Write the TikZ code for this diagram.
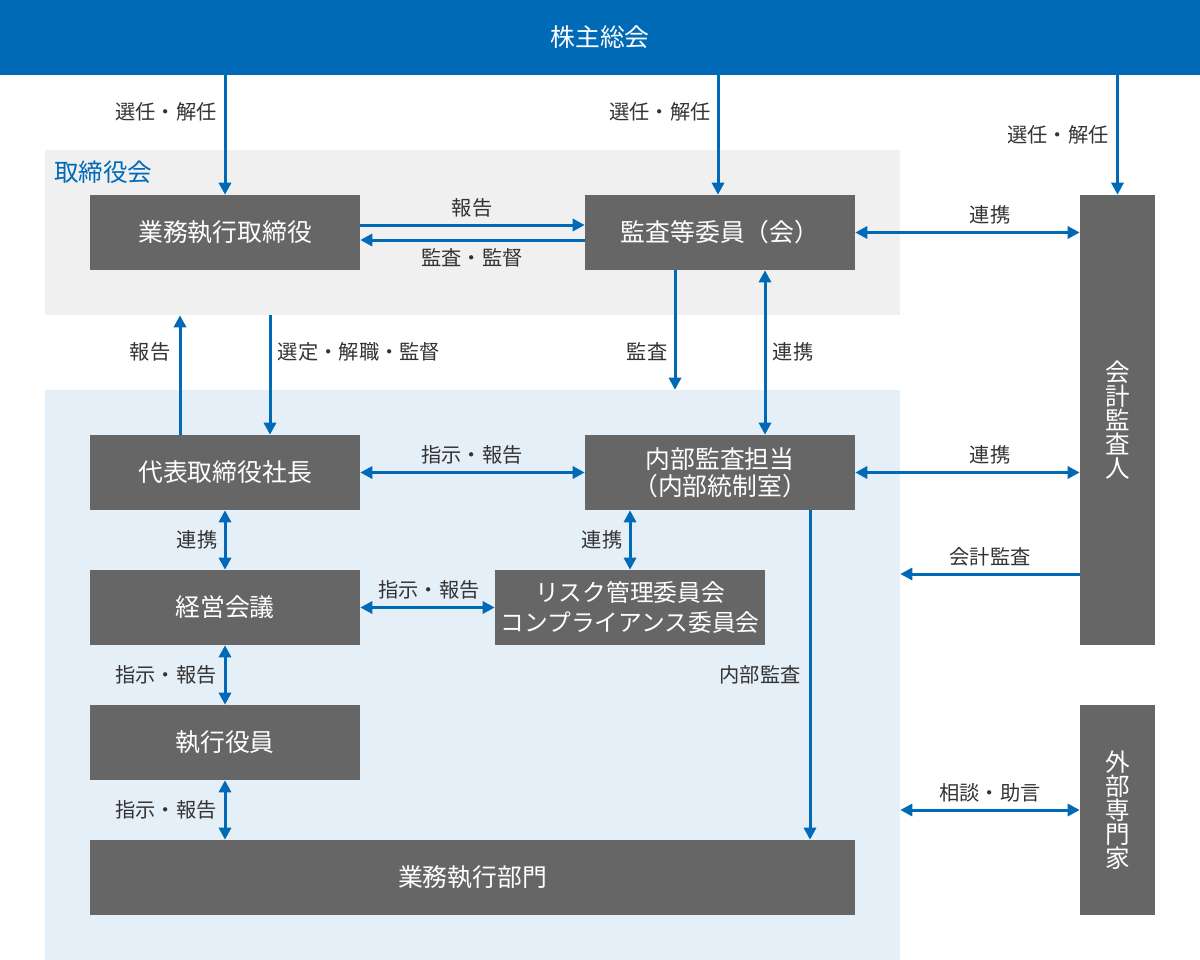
\documentclass[tikz,border=0pt]{standalone}
\usepackage{fontspec}
\setmainfont{Noto Sans CJK JP}
\usetikzlibrary{arrows.meta,calc}
\definecolor{mainblue}{HTML}{006AB6}
\definecolor{boxgray}{HTML}{666666}
\definecolor{lightgray}{HTML}{F0F0F0}
\definecolor{lightblue}{HTML}{E5EFF8}
\definecolor{labelgray}{HTML}{333333}
\tikzset{
  px/.style={x=0.75pt,y=-0.75pt},
  box/.style={fill=boxgray,text=white,inner sep=0pt,minimum height=56.25pt,minimum width=202.5pt,font=\fontsize{18.6pt}{21.5pt}\selectfont,align=center},
  vbox/.style={fill=boxgray,text=white,inner sep=0pt,minimum width=56.25pt,font=\fontsize{18.4pt}{17.9pt}\selectfont,align=center},
  region/.style={inner sep=0pt,minimum width=641.25pt},
  lbl/.style={text=labelgray,inner sep=0pt,font=\fontsize{15.2pt}{18pt}\selectfont},
  arr/.style={draw=mainblue,line width=2.25pt,-{Triangle[length=9pt,width=9pt]}},
  darr/.style={draw=mainblue,line width=2.25pt,{Triangle[length=9pt,width=9pt]}-{Triangle[length=9pt,width=9pt]}},
}
\begin{document}
\begin{tikzpicture}[px]
\useasboundingbox (0,0) rectangle (1200,960);
% regions
\node[region,fill=lightgray,minimum height=123.75pt] (board) at (472.5,232.5) {};
\node[region,fill=lightblue,minimum height=427.5pt] (exec) at (472.5,675) {};
\node[fill=mainblue,text=white,inner sep=0pt,minimum width=900pt,minimum height=56.25pt,font=\fontsize{18.6pt}{21pt}\selectfont] (banner) at (600,37.5) {株主総会};
\node[text=mainblue,anchor=west,inner sep=0pt,font=\fontsize{18.4pt}{21pt}\selectfont] (boardlbl) at (54,172) {取締役会};
% boxes
\node[box] (gyomu) at (225,232.5) {業務執行取締役};
\node[box] (kansa) at (720,232.5) {監査等委員（会）};
\node[vbox,minimum height=337.5pt] (kaikei) at (1117.5,420) {会\\計\\監\\査\\人};
\node[vbox,minimum height=157.5pt] (gaibu) at (1117.5,810) {外\\部\\専\\門\\家};
\node[box] (ceo) at (225,472.5) {代表取締役社長};
\node[box] (naibu) at (720,472.5) {内部監査担当\\[-1.5pt]（内部統制室）};
\node[box,font=\fontsize{17.8pt}{21.5pt}\selectfont] (risk) at (630,607.5) {リスク管理委員会\\[0.5pt]コンプライアンス委員会};
\node[box] (keiei) at (225,607.5) {経営会議};
\node[box] (shikko) at (225,742.5) {執行役員};
\node[box,minimum width=573.75pt] (bumon) at (472.5,877.5) {業務執行部門};
% arrows from banner
\draw[arr] (banner.south -| gyomu.north) -- (gyomu.north);
\draw[arr] ($(kansa.north)+(-2,0)$) coordinate (k1) (k1 |- banner.south) -- (k1);
\draw[arr] (banner.south -| kaikei.north) -- (kaikei.north);
% board row
\draw[arr] ($(gyomu.east)+(0,-7.5)$) coordinate (g1) -- (g1 -| kansa.west);
\draw[arr] ($(kansa.west)+(0,7.5)$) coordinate (k2) -- (k2 -| gyomu.east);
\draw[darr] (kansa.east) -- (kansa.east -| kaikei.west);
% between board and exec
\draw[arr] ($(kansa.south)+(-45,0)$) coordinate (k3) -- (k3 |- exec.north);
\draw[darr] ($(kansa.south)+(45,0)$) coordinate (k4) -- (k4 |- naibu.north);
\draw[arr] ($(ceo.north)+(-45,0)$) coordinate (c1) -- (c1 |- board.south);
\draw[arr] ($(ceo.north)+(45,0)$) coordinate (c2) (c2 |- board.south) -- (c2);
% exec rows
\draw[darr] (ceo.east) -- (naibu.west);
\draw[darr] (naibu.east) -- (naibu.east -| kaikei.west);
\draw[arr] ($(kaikei.west)+(0,154)$) coordinate (a1) -- (a1 -| exec.east);
\draw[darr] (ceo.south) -- (keiei.north);
\draw[darr] (risk.north |- naibu.south) -- (risk.north);
\draw[darr] (keiei.east) -- (risk.west);
\draw[darr] (keiei.south) -- (shikko.north);
\draw[arr] ($(naibu.south)+(90,0)$) coordinate (n1) -- (n1 |- bumon.north);
\draw[darr] (shikko.south) -- (shikko.south |- bumon.north);
\draw[darr] (gaibu.west -| exec.east) -- (gaibu.west);
% labels
\node[lbl] (l1) at (166,112) {選任・解任};
\node[lbl] (l2) at (660,112) {選任・解任};
\node[lbl] (l3) at (1058,135) {選任・解任};
\node[lbl] (l4) at (472,208) {報告};
\node[lbl] (l5) at (472,258) {監査・監督};
\node[lbl] (l6) at (990,215) {連携};
\node[lbl] (l7) at (150,352) {報告};
\node[lbl] (l8) at (359,352) {選定・解職・監督};
\node[lbl] (l9) at (647,352) {監査};
\node[lbl] (l10) at (793,352) {連携};
\node[lbl] (l11) at (472,455) {指示・報告};
\node[lbl] (l12) at (990,455) {連携};
\node[lbl] (l13) at (990,557) {会計監査};
\node[lbl] (l14) at (197,540) {連携};
\node[lbl] (l15) at (602,540) {連携};
\node[lbl] (l16) at (429,590) {指示・報告};
\node[lbl] (l17) at (166,675) {指示・報告};
\node[lbl] (l18) at (760,675) {内部監査};
\node[lbl] (l19) at (166,810) {指示・報告};
\node[lbl] (l20) at (990,793) {相談・助言};
\end{tikzpicture}
\end{document}
